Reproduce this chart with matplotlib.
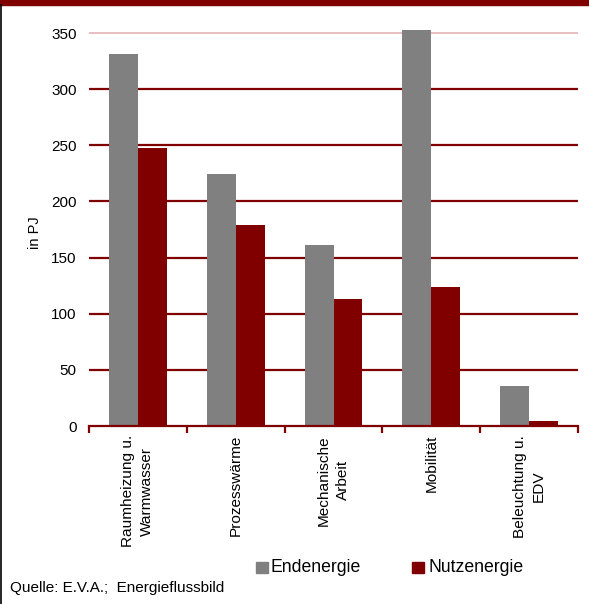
import matplotlib
matplotlib.use("Agg")
import matplotlib.pyplot as plt
from matplotlib.patches import Rectangle
from matplotlib.lines import Line2D

categories = ["Raumheizung u.\nWarmwasser", "Prozesswärme", "Mechanische\nArbeit", "Mobilität", "Beleuchtung u.\nEDV"]
endenergie = [331, 224, 161, 353, 35.5]
nutzenergie = [248, 179, 113, 124, 4.5]
yticks = [0, 50, 100, 150, 200, 250, 300, 350]

plt.rcParams['font.family'] = ['Liberation Sans', 'DejaVu Sans']
DARK = '#800000'
GRAY = '#808080'

fig = plt.figure(figsize=(5.89, 6.04), dpi=100)
ax = fig.add_axes([89/589, 1-426/604, (578-89)/589, (426-21.8)/604])

x = list(range(len(categories)))
w = 0.295
ax.bar([i - w/2 for i in x], endenergie, width=w, color=GRAY, zorder=3)
ax.bar([i + w/2 for i in x], nutzenergie, width=w, color=DARK, zorder=3)

ax.set_xlim(-0.5, len(categories) - 0.5)
ax.set_ylim(0, 360)
for v in yticks[1:]:
    if v == 350:
        ax.axhline(v, color='#e6b3b8', lw=1.2, zorder=1)
    else:
        ax.axhline(v, color=DARK, lw=1.6, zorder=1)

for s in ['top', 'right', 'left']:
    ax.spines[s].set_visible(False)
ax.spines['bottom'].set_color(DARK)
ax.spines['bottom'].set_linewidth(1.6)
ax.spines['bottom'].set_zorder(4)

ax.set_yticks(yticks)
ax.set_yticklabels([str(v) for v in yticks], fontsize=11)
ax.tick_params(axis='y', length=0, pad=9)

ax.set_xticks([i - 0.5 for i in range(len(categories) + 1)])
ax.set_xticklabels([])
ax.tick_params(axis='x', length=5, width=1.6, color=DARK, direction='out')
for i, c in enumerate(categories):
    ax.text(i, -8, c, rotation=90, ha='center', va='top', fontsize=11.1,
            multialignment='center', linespacing=1.45, transform=ax.transData)

fig.text(35/589, 1-233/604, "in PJ", rotation=90, fontsize=10.5, ha='center', va='center')

# legend
fig.patches.append(Rectangle((256/589, 1-573/604), 12/589, 11/604, transform=fig.transFigure, color=GRAY))
fig.text(270/589, 1-567/604, "Endenergie", fontsize=12.7, va='center', ha='left')
fig.patches.append(Rectangle((412/589, 1-573/604), 12/589, 11/604, transform=fig.transFigure, color=DARK))
fig.text(428/589, 1-567/604, "Nutzenergie", fontsize=12.7, va='center', ha='left')

fig.text(10/589, 1-588/604, "Quelle: E.V.A.;  Energieflussbild", fontsize=11, va='center', ha='left')

# frame decorations
fig.patches.append(Rectangle((0, 1-5/604), 1, 5/604, transform=fig.transFigure, color=DARK))
fig.lines.append(Line2D([1/589, 1/589], [0, 1-5/604], transform=fig.transFigure, color='black', lw=1.2))

fig.savefig("out.png", dpi=100)
